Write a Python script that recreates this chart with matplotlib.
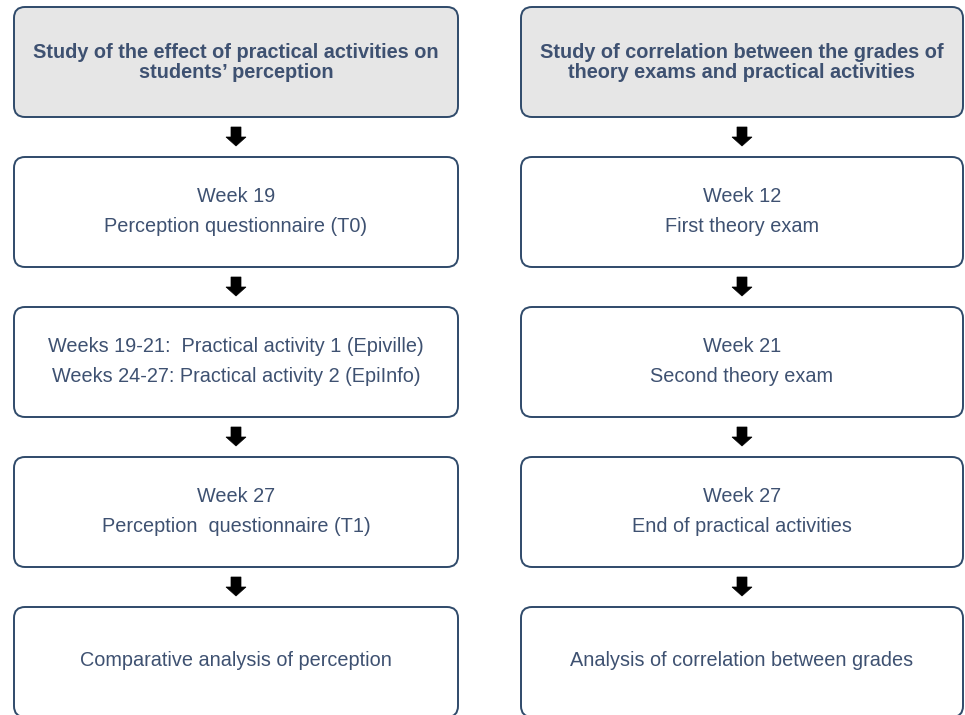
"""Study design flowchart: two parallel timelines of boxes joined by block arrows."""

import matplotlib.pyplot as plt
from matplotlib.patches import FancyBboxPatch, Polygon

plt.rcParams['font.family'] = ['Liberation Sans', 'DejaVu Sans']

# ============================================================================
# CONTENT
# ============================================================================

left_title = ["Study of the effect of practical activities on",
              "students\u2019 perception"]
right_title = ["Study of correlation between the grades of",
               "theory exams and practical activities"]

left_steps = [
    ["Week 19", "Perception questionnaire (T0)"],
    ["Weeks 19-21:  Practical activity 1 (Epiville)",
     "Weeks 24-27: Practical activity 2 (EpiInfo)"],
    ["Week 27", "Perception  questionnaire (T1)"],
    ["Comparative analysis of perception"],
]
right_steps = [
    ["Week 12", "First theory exam"],
    ["Week 21", "Second theory exam"],
    ["Week 27", "End of practical activities"],
    ["Analysis of correlation between grades"],
]

# ============================================================================
# LAYOUT (pixels, origin top-left)
# ============================================================================

W, H = 965, 715
COL_X = [14, 521]          # left edge of each column
COL_W = [444, 442]
ROW_Y = [7, 157, 307, 457, 607]
BOX_H = 110
RADIUS = 11
FS = 14.3

EDGE = '#2f4a6a'
TEXT = '#3e5171'
HEAD_FILL = '#e6e6e6'

fig = plt.figure(figsize=(W / 100, H / 100), dpi=100)
ax = fig.add_axes([0, 0, 1, 1])
ax.set_xlim(0, W)
ax.set_ylim(H, 0)
ax.axis('off')


def draw_box(x, y, w, fill):
    box = FancyBboxPatch((x + RADIUS, y + RADIUS), w - 2 * RADIUS, BOX_H - 2 * RADIUS,
                         boxstyle=f"round,pad={RADIUS}", facecolor=fill,
                         edgecolor=EDGE, linewidth=1.4)
    ax.add_patch(box)


def draw_arrow(cx, top):
    # small black block arrow pointing down
    pts = [(cx - 5, top), (cx + 5, top), (cx + 5, top + 10), (cx + 10, top + 10),
           (cx, top + 19), (cx - 10, top + 10), (cx - 5, top + 10)]
    ax.add_patch(Polygon(pts, closed=True, facecolor='black', edgecolor='black', linewidth=0.5))


for col, (title, steps) in enumerate([(left_title, left_steps), (right_title, right_steps)]):
    x0, w = COL_X[col], COL_W[col]
    cx = x0 + w / 2

    # header box
    draw_box(x0, ROW_Y[0], w, HEAD_FILL)
    cy = ROW_Y[0] + 55.5
    ax.text(cx, cy - 10.5, title[0], ha='center', va='center', fontsize=FS,
            fontweight='bold', color=TEXT)
    ax.text(cx, cy + 10.5, title[1], ha='center', va='center', fontsize=FS,
            fontweight='bold', color=TEXT)

    for i, lines in enumerate(steps):
        y0 = ROW_Y[i + 1]
        draw_box(x0, y0, w, 'white')
        draw_arrow(cx, ROW_Y[i] + BOX_H + 10)
        mid = y0 + BOX_H / 2
        if len(lines) == 1:
            ax.text(cx, mid - 1, lines[0], ha='center', va='center', fontsize=FS, color=TEXT)
        else:
            ax.text(cx, mid - 15, lines[0], ha='center', va='center', fontsize=FS, color=TEXT)
            ax.text(cx, mid + 14, lines[1], ha='center', va='center', fontsize=FS, color=TEXT)

plt.savefig('out.png', dpi=100)
